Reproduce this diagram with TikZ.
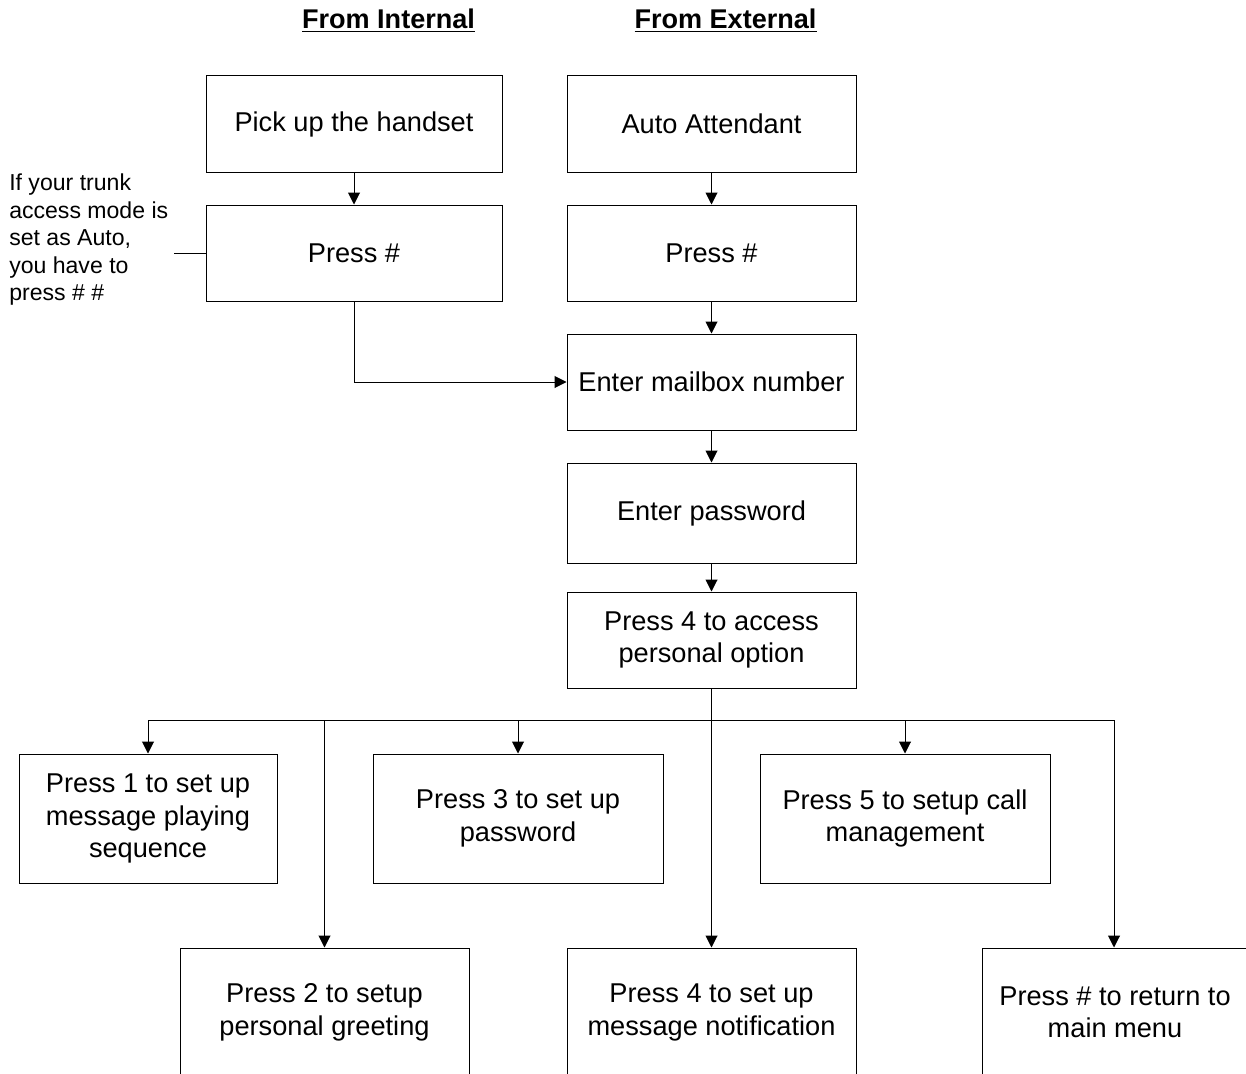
\documentclass[tikz,border=0pt]{standalone}
\usepackage{fontspec}
\setmainfont{Liberation Sans}
\usetikzlibrary{arrows.meta}
\begin{document}
\begin{tikzpicture}[x=0.75pt,y=-0.75pt,
  box/.style={draw=black,line width=0.75pt,rectangle,align=center,inner sep=2pt,
    font=\fontsize{20.4}{24.3}\selectfont},
  stdbox/.style={box,minimum width=216.75pt,minimum height=72pt},
  lowbox/.style={box,minimum width=217.5pt,minimum height=96.75pt},
  conn/.style={draw=black,line width=0.75pt},
  arr/.style={conn,-{Triangle[length=9pt,width=9pt]}},
  head/.style={font=\fontsize{20.3}{24}\selectfont\bfseries,anchor=base,inner sep=0pt},
  note/.style={font=\fontsize{17.3}{20.6}\selectfont,align=left,anchor=base west,inner sep=0pt}]
\useasboundingbox (0,0) rectangle (1246,1074);
\clip (0,0) rectangle (1246,1074);

% headers
\node[head] (hint) at (388.5,29) {\underline{From Internal}};
\node[head] (hext) at (725.5,29) {\underline{From External}};

% upper boxes
\node[box,minimum width=222pt,minimum height=72pt] (pick) at (354,124) {Pick up the handset};
\node[stdbox] (auto) at (711.5,124) {Auto Attendant};
\node[box,minimum width=222pt,minimum height=72pt] (pressL) at (354,253) {Press \#};
\node[stdbox] (pressR) at (711.5,253) {Press \#};
\node[stdbox] (mail) at (711.5,382) {Enter mailbox number};
\node[stdbox,minimum height=75pt] (pass) at (711.5,513) {Enter password};
\node[stdbox] (access) at (711.5,640) {Press 4 to access\\personal option};

% note
\node[note] (note) at (9,300.5) {If your trunk\\access mode is\\set as Auto,\\you have to\\press \# \#};
\coordinate (nc) at (174,253);
\draw[conn] (nc) -- (pressL.west);

% middle row
\node[lowbox,minimum width=193.5pt] (p1) at (148,818.5) {Press 1 to set up\\message playing\\sequence};
\node[lowbox] (p3) at (518,818.5) {Press 3 to set up\\password};
\node[lowbox] (p5) at (905,818.5) {Press 5 to setup call\\management};

% bottom row
\node[lowbox,minimum width=216.75pt] (p2) at (324.5,1012.5) {Press 2 to setup\\personal greeting};
\node[lowbox,minimum width=216.75pt] (p4) at (711.5,1012.5) {Press 4 to set up\\message notification};
\node[lowbox,minimum width=199.5pt] (p6) at (1115,1012.5) {Press \# to return to\\main menu};

% connectors
\draw[arr] (pick) -- (pressL);
\draw[arr] (auto) -- (pressR);
\draw[arr] (pressR) -- (mail);
\draw[arr] (pressL.south) |- (mail.west);
\draw[arr] (mail) -- (pass);
\draw[arr] (pass) -- (access);

\coordinate (b1) at (148,720);
\coordinate (b2) at (324.5,720);
\coordinate (b3) at (518,720);
\coordinate (b5) at (905,720);
\coordinate (b6) at (1114,720);
\draw[conn] (b1) -- (b6);
\draw[arr] (access.south) -- (p4.north);
\draw[arr] (b1) -- (p1.north);
\draw[arr] (b2) -- (p2.north);
\draw[arr] (b3) -- (p3.north);
\draw[arr] (b5) -- (p5.north);
\draw[arr] (b6) -- (b6 |- p6.north);
\end{tikzpicture}
\end{document}
